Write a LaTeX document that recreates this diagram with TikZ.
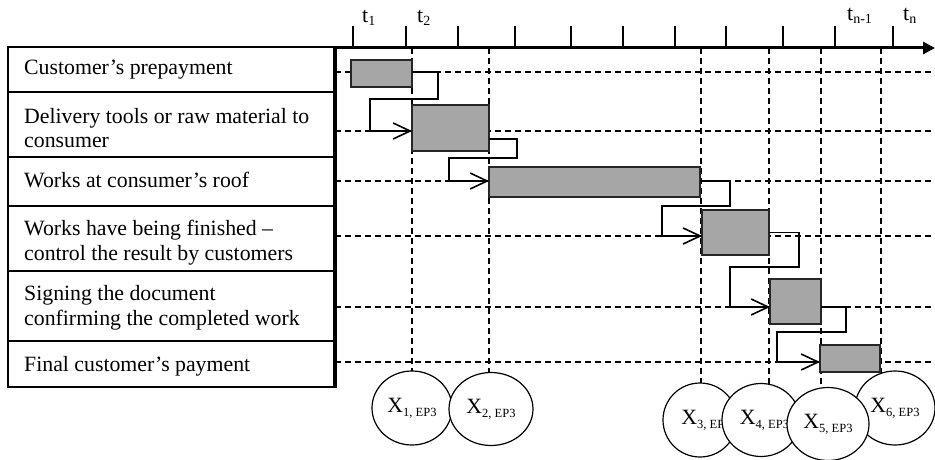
\documentclass[tikz,border=0pt]{standalone}
\usepackage{fontspec}
\setmainfont{Liberation Serif}
\usetikzlibrary{arrows.meta,shapes.geometric,calc}
\definecolor{barfill}{HTML}{A6A6A6}
\newcommand\xsub[1]{\raisebox{-4pt}{\fontsize{12.5}{14}\selectfont #1}}
\newcommand\tsub[1]{\raisebox{-2.5pt}{\fontsize{14}{16}\selectfont #1}}
\newcommand\clabel[2]{\makebox[0pt][c]{\hspace*{#1}#2}}
\begin{document}
\begin{tikzpicture}[x=1pt,y=-1pt,
  rowbox/.style={draw, line width=2.6pt, rectangle, minimum width=326pt, inner sep=0pt, outer sep=0pt, anchor=north west},
  rowtext/.style={inner sep=0pt, anchor=base west, font=\fontsize{21.8}{24.5}\selectfont},
  bar/.style={draw=black!85, line width=1.4pt, fill=barfill, inner sep=0pt, outer sep=0pt, anchor=north west},
  conn/.style={line width=1.4pt, -{Straight Barb[length=17pt,width=16pt,line width=1.6pt]}},
  grid/.style={line width=1.2pt, dash pattern=on 6pt off 4pt},
  tickmark/.style={line width=1.2pt},
  axisline/.style={line width=3pt},
  tlabel/.style={inner sep=0pt, anchor=base west, font=\fontsize{21.8}{24}\selectfont},
  circ/.style={ellipse, draw, line width=1.2pt, fill=white, inner sep=0pt, font=\fontsize{21.8}{24}\selectfont}]
\useasboundingbox (0,0) rectangle (935,460);

% row level coordinates
\coordinate (L1) at (335,72);
\coordinate (L2) at (335,131);
\coordinate (L3) at (335,181);
\coordinate (L4) at (335,236);
\coordinate (L5) at (335,307);
\coordinate (L6) at (335,362);
\coordinate (O) at (333,48);
\coordinate (E) at (935,48);

% horizontal dashed grid
\foreach \n in {L1,L2,L3,L4,L5,L6}
  \draw[grid] (\n) -- (\n -| E);
% vertical dashed grid
\foreach \x/\y in {412/400,489/400,701/420,769/420,821/424,881/408}
  \draw[grid] (\x,48) -- (\x,\y);

% bars
\node[bar, minimum width=61pt, minimum height=27pt] (b1) at (351,60) {};
\node[bar, minimum width=77pt, minimum height=46pt] (b2) at (412,105) {};
\node[bar, minimum width=211pt, minimum height=30pt] (b3) at (489,167) {};
\node[bar, minimum width=67pt, minimum height=45pt] (b4) at (702,210) {};
\node[bar, minimum width=51pt, minimum height=45pt] (b5) at (770,279) {};
\node[bar, minimum width=60pt, minimum height=27pt] (b6) at (820,345) {};

% connectors
\draw[conn] (b1.east |- L1) -| (438,99) -| (370,131) -- (b2.west |- L2);
\draw[conn] ($(b2.east)+(0,11)$) -| (517,158) -| (449,181) -- (b3.west |- L3);
\draw[conn] (b3.east |- L3) -| (730,206) -| (662,236) -- (b4.west |- L4);
\draw[conn] (b4.east) -| (799,267) -| (730,307) -- (b5.west |- L5);
\draw[conn] (b5.east |- L5) -| (846,332) -| (777,362) -- (b6.west |- L6);

% time axis
\foreach \x in {353,406,458,515,571,623,675,726,783,835,893}
  \draw[tickmark] (\x,48) -- (\x,26);
\draw[axisline, -{Triangle[length=12pt,width=12pt]}] (O) -- (E);
\draw[axisline] (335,46) -- (335,388);

\node[tlabel] (t1) at (362,23) {t\tsub{1}};
\node[tlabel] (t2) at (417,23) {t\tsub{2}};
\node[tlabel] (tn1) at (847,21) {t\tsub{n-1}};
\node[tlabel] (tn) at (903,21) {t\tsub{n}};

% table of stages
\node[rowbox, minimum height=45pt] (R1) at (8,47) {};
\node[rowbox, minimum height=65pt] (R2) at (8,92) {};
\node[rowbox, minimum height=49pt] (R3) at (8,157) {};
\node[rowbox, minimum height=65pt] (R4) at (8,206) {};
\node[rowbox, minimum height=70pt] (R5) at (8,271) {};
\node[rowbox, minimum height=46pt] (R6) at (8,341) {};

\node[rowtext] (T1) at (24,75) {Customer’s prepayment};
\node[rowtext] (T2) at (24,123) {\parbox[t]{305pt}{Delivery tools or raw material to\\consumer}};
\node[rowtext] (T3) at (24,187) {Works at consumer’s roof};
\node[rowtext] (T4) at (24,235) {\parbox[t]{305pt}{\baselineskip=25pt Works have being finished –\\control the result by customers}};
\node[rowtext] (T5) at (24,300) {\parbox[t]{305pt}{\baselineskip=25.5pt Signing the document\\confirming the completed work}};
\node[rowtext] (T6) at (24,371) {Final customer’s payment};

% circles
\node[circ, minimum width=80pt, minimum height=74pt] (C1) at (412,408) {\clabel{0pt}{X\xsub{1, EP3}}};
\node[circ, minimum width=84pt, minimum height=73pt] (C2) at (491,409) {\clabel{0pt}{X\xsub{2, EP3}}};
\node[circ, minimum width=74pt, minimum height=74pt] (C3) at (700,420) {\clabel{12pt}{X\xsub{3, EP3}}};
\node[circ, minimum width=78pt, minimum height=73pt] (C4) at (761,420) {\clabel{7pt}{X\xsub{4, EP3}}};
\node[circ, minimum width=80pt, minimum height=74pt] (C6) at (895,408) {\clabel{0pt}{X\xsub{6, EP3}}};
\node[circ, minimum width=82pt, minimum height=73pt] (C5) at (828,424) {\clabel{0pt}{X\xsub{5, EP3}}};
\end{tikzpicture}
\end{document}
